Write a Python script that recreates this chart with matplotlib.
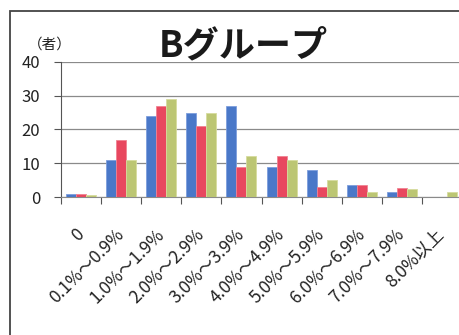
import numpy as np
import matplotlib
matplotlib.use("Agg")
import matplotlib.pyplot as plt
from matplotlib.patches import Rectangle

plt.rcParams['font.family'] = ['Noto Sans CJK JP', 'DejaVu Sans']

# -----------------------
# data
# -----------------------
categories = ["0", "0.1%～0.9%", "1.0%～1.9%", "2.0%～2.9%", "3.0%～3.9%",
              "4.0%～4.9%", "5.0%～5.9%", "6.0%～6.9%", "7.0%～7.9%", "8.0%以上"]
series_blue = [0.8, 11, 24, 25, 27, 9, 8, 3.7, 1.5, 0]
series_red = [0.8, 17, 27, 21, 9, 12, 3, 3.7, 2.7, 0]
series_green = [0.6, 11, 29, 25, 12, 11, 5, 1.5, 2.5, 1.5]
y_ticks = [0, 10, 20, 30, 40]

colors = ["#4a78c8", "#e8475f", "#bcc673"]
edges = ["#7d9edc", "#f08292", "#d6dc9e"]

W, H = 459, 335
fig = plt.figure(figsize=(W / 100, H / 100), dpi=100)
fig.patch.set_facecolor("white")

ax = fig.add_axes([61 / W, 1 - 197 / H, (462 - 61) / W, (197 - 62) / H])

x = np.arange(len(categories))
bw = 0.25
for i, (vals, c, e) in enumerate(zip([series_blue, series_red, series_green], colors, edges)):
    ax.bar(x + (i - 1) * bw, vals, width=bw, color=c, edgecolor=e, linewidth=0.6, zorder=3)

ax.set_xlim(-0.5, len(categories) - 0.5)
ax.set_ylim(0, 40)
ax.set_yticks(y_ticks)
ax.set_yticklabels([str(v) for v in y_ticks], fontsize=12)
ax.yaxis.grid(True, color="#8a8a8a", linewidth=0.9, zorder=0)

# ticks between categories, labels at centres
ax.set_xticks(np.arange(-0.5, len(categories) + 0.5, 1.0))
ax.set_xticklabels([])
ax.set_xticks(x, minor=True)
ax.set_xticklabels(categories, minor=True, rotation=45, ha="right", va="center",
                   rotation_mode="anchor", fontsize=12.5, color="#222222")
ax.tick_params(axis="x", which="minor", length=0, pad=25)
ax.tick_params(axis="x", which="major", length=5, color="#555555", direction="out")
ax.tick_params(axis="y", length=5, color="#555555", pad=10, labelcolor="#222222")

for s in ["top", "right"]:
    ax.spines[s].set_visible(False)
ax.spines["left"].set_color("#555555")
ax.spines["bottom"].set_color("#8a8a8a")

fig.text(243 / W, 1 - 46 / H, "Bグループ", fontsize=26, fontweight="bold",
         ha="center", va="center", color="#1a1a1a")
fig.text(50 / W, 1 - 45 / H, "（者）", fontsize=10.5, ha="center", va="center", color="#222222")

# frame around the chart
fig.add_artist(Rectangle((10 / W, -0.1), 1.2, 1 - 11 / H + 0.1, transform=fig.transFigure,
                         fill=False, edgecolor="#444444", linewidth=1.3))

fig.savefig("out.png", dpi=100)
